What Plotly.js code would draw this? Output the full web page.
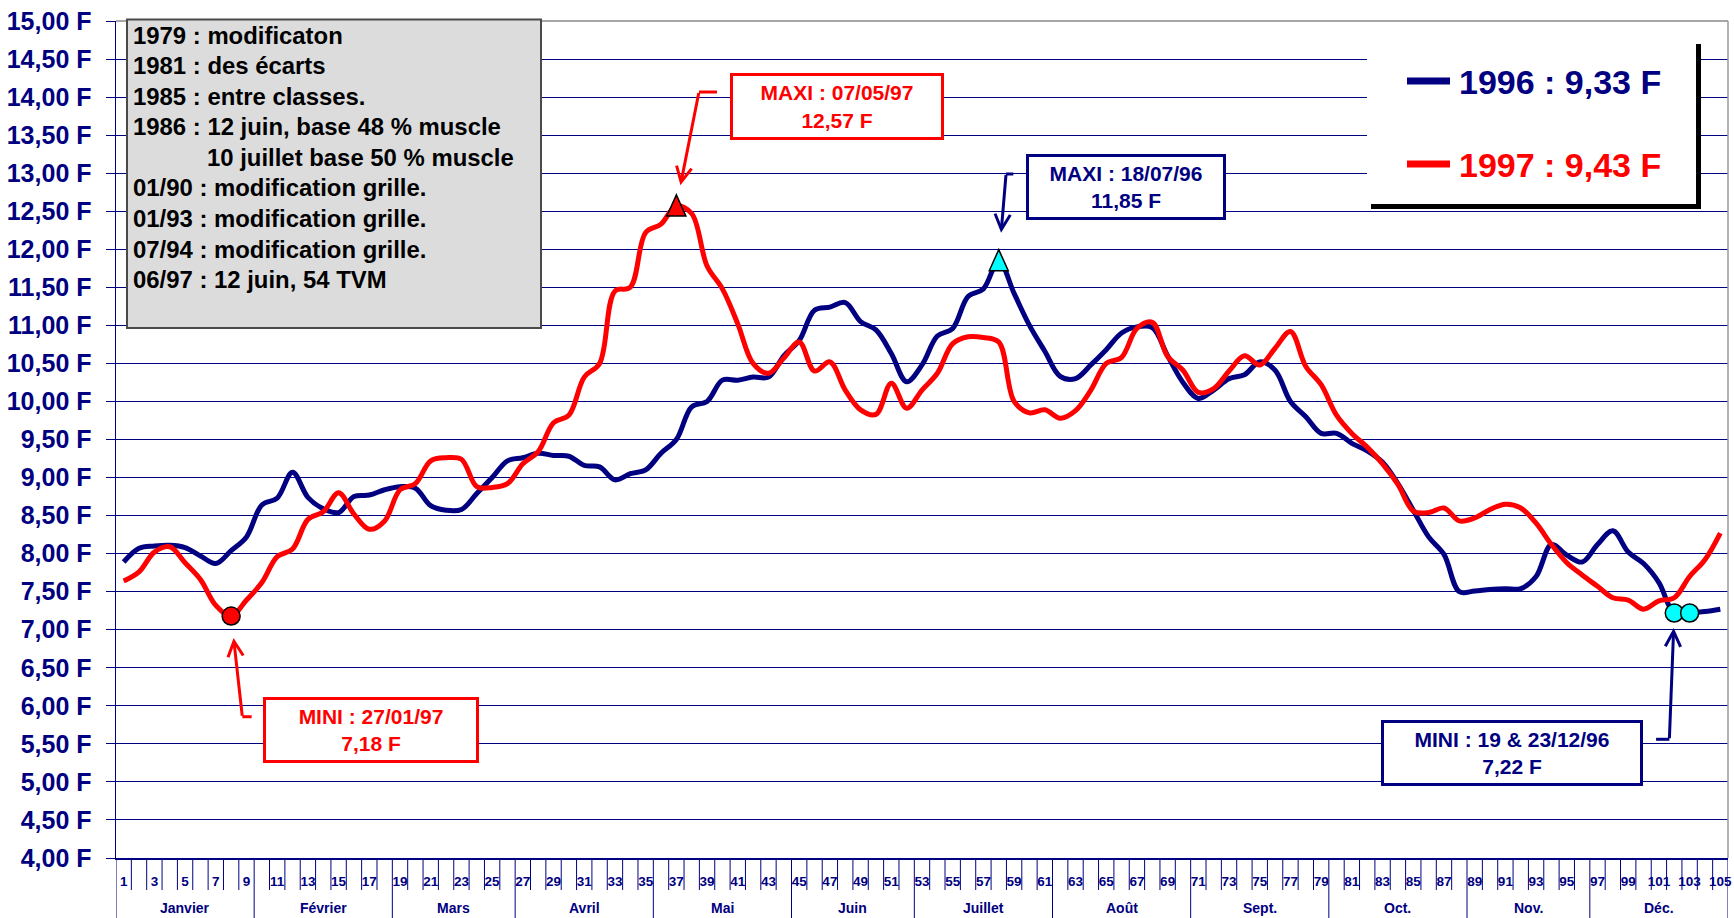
<!DOCTYPE html>
<html><head><meta charset="utf-8">
<script src="https://cdn.plot.ly/plotly-3.0.1.min.js"></script>
<style>html,body{margin:0;padding:0;background:#fff;}#chart{width:1734px;height:918px;}</style>
</head><body><div id="chart"></div>
<script>
// ---------- DATA ----------
const weeks = [1,2,3,4,5,6,7,8,9,10,11,12,13,14,15,16,17,18,19,20,21,22,23,24,25,26,27,28,29,30,
 31,32,33,34,35,36,37,38,39,40,41,42,43,44,45,46,47,48,49,50,51,52,53,54,55,56,57,58,59,60,
 61,62,63,64,65,66,67,68,69,70,71,72,73,74,75,76,77,78,79,80,81,82,83,84,85,86,87,88,89,90,
 91,92,93,94,95,96,97,98,99,100,101,102,103,104,105];
const prix1996 = [7.89,8.07,8.10,8.11,8.08,7.97,7.87,8.04,8.22,8.64,
 8.73,9.07,8.74,8.59,8.54,8.75,8.77,8.84,8.88,8.86,
 8.63,8.57,8.58,8.79,9.00,9.22,9.26,9.32,9.29,9.28,
 9.16,9.14,8.97,9.05,9.10,9.32,9.50,9.93,10.00,10.28,
 10.28,10.32,10.32,10.60,10.80,11.20,11.24,11.30,11.05,10.94,
 10.63,10.26,10.48,10.86,10.96,11.38,11.48,11.85,11.42,11.00,
 10.66,10.33,10.30,10.48,10.68,10.90,10.98,10.97,10.60,10.25,
 10.04,10.15,10.30,10.35,10.52,10.41,10.00,9.80,9.58,9.58,
 9.45,9.35,9.20,8.92,8.57,8.22,7.99,7.50,7.51,7.53,
 7.54,7.54,7.70,8.12,7.98,7.89,8.12,8.30,8.02,7.87,
 7.62,7.22,7.22,7.24,7.27];
const prix1997 = [7.64,7.76,8.02,8.09,7.88,7.66,7.32,7.18,7.39,7.62,
 7.96,8.06,8.45,8.55,8.80,8.52,8.32,8.43,8.84,8.92,
 9.22,9.26,9.24,8.88,8.87,8.92,9.18,9.34,9.72,9.82,
 10.32,10.50,11.45,11.50,12.22,12.33,12.57,12.47,11.78,11.48,
 11.02,10.50,10.37,10.57,10.78,10.40,10.52,10.15,9.89,9.83,
 10.24,9.91,10.15,10.37,10.76,10.85,10.84,10.78,10.00,9.85,
 9.89,9.78,9.88,10.15,10.50,10.58,10.96,11.04,10.59,10.41,
 10.12,10.17,10.40,10.60,10.48,10.70,10.92,10.46,10.22,9.82,
 9.58,9.40,9.18,8.91,8.56,8.54,8.60,8.43,8.47,8.58,
 8.65,8.60,8.40,8.12,7.88,7.72,7.57,7.42,7.39,7.27,
 7.38,7.42,7.70,7.92,8.27];
const monthNames = ['Janvier','Février','Mars','Avril','Mai','Juin','Juillet','Août','Sept.','Oct.','Nov.','Déc.'];
const monthLengths = [9,9,8,9,9,8,9,9,9,9,8,9];
const yTickVals = [4,4.5,5,5.5,6,6.5,7,7.5,8,8.5,9,9.5,10,10.5,11,11.5,12,12.5,13,13.5,14,14.5,15];
const legendLabels = ['1996 : 9,33 F','1997 : 9,43 F'];
const noteLines = ['1979 : modificaton','1981 : des écarts','1985 : entre classes.',
 '1986 : 12 juin, base 48 % muscle','10 juillet base 50 % muscle',
 '01/90 : modification grille.','01/93 : modification grille.','07/94 : modification grille.',
 '06/97 : 12 juin, 54 TVM'];
const noteIndent = [false,false,false,false,true,false,false,false,false];
const calloutTitles = ['MAXI : 07/05/97','MAXI : 18/07/96','MINI : 27/01/97','MINI : 19 & 23/12/96'];

// ---------- STYLE / GEOMETRY ----------
const NAVY='#000080', RED='#ff0000', CYAN='#00ffff';
const FONT='"Liberation Sans", Arial, sans-serif';
const L=116, T=21, W=1612, H=837;
const fx = p => (p-L)/W, fy = p => (T+H-p)/H;
const fmtF = v => v.toFixed(2).replace('.',',')+' F';

const series = [
  {name:'1996', y:prix1996, color:NAVY, mark:CYAN},
  {name:'1997', y:prix1997, color:RED, mark:RED}
];

const traces = [];
series.forEach(s=>{
  traces.push({x:weeks, y:s.y, type:'scatter', mode:'lines', hoverinfo:'skip', showlegend:false,
    line:{color:s.color, width:5, shape:'spline', smoothing:1}});
});
function extremes(arr, type){
  const v = type==='max' ? Math.max(...arr) : Math.min(...arr);
  const idx = []; arr.forEach((a,i)=>{ if(a===v) idx.push(i); });
  return {v, idx};
}
const shapes = [], annotations = [];

// minimum markers (circles) as traces; maximum markers (upright triangles) anchored on the data point
series.forEach(s=>{
  const e = extremes(s.y,'min');
  traces.push({x:e.idx.map(i=>weeks[i]), y:e.idx.map(i=>s.y[i]), type:'scatter', mode:'markers',
    hoverinfo:'skip', showlegend:false,
    marker:{symbol:'circle', size:18, color:s.mark, line:{color:'#000', width:1.5}}});
});
const triShapes = [];
series.forEach(s=>{
  const e = extremes(s.y,'max');
  e.idx.forEach(i=>{
    triShapes.push({type:'path', xref:'x', yref:'y', xsizemode:'pixel', ysizemode:'pixel',
      xanchor:weeks[i], yanchor:s.y[i], path:'M-9.5,-10 L9.5,-10 L0,11 Z',
      fillcolor:s.mark, line:{color:'#000', width:1.5}, layer:'above'});
  });
});

// callouts: [seriesIndex, type]
const calloutDefs = [[1,'max'],[0,'max'],[1,'min'],[0,'min']];
const calloutStyle = [
  {dx:160.6, dy:99.4, w:208, h:61, kink:[22.6,40.6,113.9], tail:[22.6,-113.9], standoff:21},
  {dx:127.0, dy:73.5, w:194, h:60, kink:[7.3,14.6,86.7], tail:[7.3,-86.7], standoff:28},
  {dx:139.9, dy:-114, w:210, h:60, kink:[11.2,20.5,-100.7], tail:[11.2,100.7], standoff:22},
  {dx:-162.2, dy:-140, w:256, h:60, kink:[-18.2,-4.9,-126.3], tail:[-4.9,126.3], standoff:15}
];
calloutDefs.forEach((d,k)=>{
  const s = series[d[0]], e = extremes(s.y, d[1]);
  const xi = weeks[e.idx[0]], yv = e.v, st = calloutStyle[k];
  annotations.push({x:xi, y:yv, xref:'x', yref:'y', xshift:st.dx, yshift:st.dy, showarrow:false,
    text: calloutTitles[k]+'<br>'+fmtF(yv), width:st.w, height:st.h, borderpad:0,
    bordercolor:s.color, borderwidth:3, bgcolor:'#fff', align:'center', valign:'middle',
    font:{family:FONT, size:21, color:s.color, weight:'bold'}});
  annotations.push({x:xi, y:yv, xref:'x', yref:'y', ax:st.tail[0], ay:st.tail[1], text:' ',
    font:{size:1}, showarrow:true, arrowhead:5, arrowsize:1, arrowwidth:3, arrowcolor:s.color,
    standoff:st.standoff, borderpad:0});
  shapes.push({type:'line', xref:'x', yref:'y', xsizemode:'pixel', ysizemode:'pixel',
    xanchor:xi, yanchor:yv, x0:st.kink[0], x1:st.kink[1], y0:st.kink[2], y1:st.kink[2],
    line:{color:s.color, width:3}, layer:'above'});
});

// category boundary ticks and month separators
const bounds = weeks.map(w=>w-0.5).concat([weeks[weeks.length-1]+0.5]);
const monthStarts = [0]; monthLengths.forEach((n,i)=>monthStarts.push(monthStarts[i]+n));
bounds.forEach((b,i)=>{
  const isMonth = monthStarts.includes(i);
  shapes.push({type:'line', xref:'x', yref:'paper', x0:b, x1:b, y0:0, y1: isMonth ? fy(918) : fy(890),
    line:{color:NAVY, width:1}, layer:'above'});
});
monthNames.forEach((m,i)=>{
  const c = (bounds[monthStarts[i]] + bounds[monthStarts[i+1]])/2;
  annotations.push({x:c, y:fy(907.5), xref:'x', yref:'paper', text:m, showarrow:false,
    yanchor:'middle', font:{family:FONT, size:14, color:NAVY, weight:'bold'}});
});

// plot border (top & right, grey)
shapes.push({type:'line', xref:'paper', yref:'paper', x0:0, x1:1, y0:1, y1:1, line:{color:'#888', width:1.5}, layer:'above'});
shapes.push({type:'line', xref:'paper', yref:'paper', x0:1, x1:1, y0:0, y1:1, line:{color:'#999', width:1.5}, layer:'above'});

// notes box
shapes.push({type:'rect', xref:'paper', yref:'paper', x0:fx(127), x1:fx(541), y0:fy(19.5), y1:fy(328),
  fillcolor:'#dcdcdc', line:{color:'#4a4a4a', width:2}, layer:'above'});
noteLines.forEach((t,i)=>{
  annotations.push({x:fx(noteIndent[i]?205.4:131.4), y:fy(35+30.6*i), xref:'paper', yref:'paper',
    xanchor:'left', yanchor:'middle', text:t, showarrow:false,
    font:{family:FONT, size:23.9, color:'#000', weight:'bold'}});
});

// legend box with shadow
shapes.push({type:'rect', xref:'paper', yref:'paper', x0:fx(1371), x1:fx(1701), y0:fy(44), y1:fy(209),
  fillcolor:'#000', line:{width:0}, layer:'above'});
shapes.push({type:'rect', xref:'paper', yref:'paper', x0:fx(1367), x1:fx(1696), y0:fy(40), y1:fy(204),
  fillcolor:'#fff', line:{width:0}, layer:'above'});
const legendY = [81, 164];
series.forEach((s,i)=>{
  shapes.push({type:'line', xref:'paper', yref:'paper', x0:fx(1407), x1:fx(1450), y0:fy(legendY[i]), y1:fy(legendY[i]),
    line:{color:s.color, width:7}, layer:'above'});
  annotations.push({x:fx(1457), y:fy(legendY[i]+1), xref:'paper', yref:'paper', xanchor:'left', yanchor:'middle',
    text:legendLabels[i], showarrow:false, font:{family:FONT, size:34, color:s.color, weight:'bold'}});
});
triShapes.forEach(t=>shapes.push(t));

const oddWeeks = weeks.filter(w=>w%2===1);
const layout = {
  width:1734, height:918, paper_bgcolor:'#fff', plot_bgcolor:'#fff',
  margin:{l:L, r:1734-L-W, t:T, b:918-T-H, pad:0},
  hovermode:false, showlegend:false,
  xaxis:{range:[0.5,105.5], showgrid:false, zeroline:false, showline:true, linecolor:NAVY, linewidth:1.5,
    tickmode:'array', tickvals:oddWeeks, ticktext:oddWeeks.map(String), ticks:'', ticklabelstandoff:10,
    tickfont:{family:FONT, size:13.5, color:NAVY, weight:'bold'}, fixedrange:true},
  yaxis:{range:[4,15], tickmode:'array', tickvals:yTickVals, ticktext:yTickVals.map(fmtF),
    ticks:'outside', ticklen:9, tickcolor:NAVY, tickwidth:1, showgrid:true, gridcolor:NAVY, gridwidth:1,
    zeroline:false, showline:true, linecolor:NAVY, linewidth:1.5, ticklabelstandoff:9,
    tickfont:{family:FONT, size:25, color:NAVY, weight:'bold'}, fixedrange:true},
  shapes, annotations
};
Plotly.newPlot('chart', traces, layout, {staticPlot:true, displayModeBar:false});
</script></body></html>
